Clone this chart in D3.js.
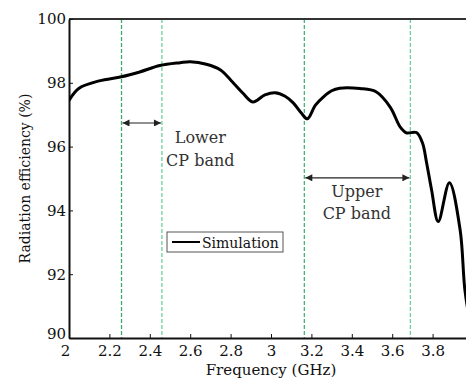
<!DOCTYPE html>
<html>
<head>
<meta charset="utf-8">
<script src="https://cdn.jsdelivr.net/npm/d3@7"></script>
<style>
  body { margin: 0; background: #fff; }
  svg { display: block; }
</style>
</head>
<body>
<svg id="chart"></svg>
<script>
// values
const freq = [2.00, 2.05, 2.15, 2.26, 2.35, 2.45, 2.55, 2.60, 2.68, 2.75, 2.80, 2.86, 2.91, 2.97, 3.02, 3.07,
  3.11, 3.15, 3.18, 3.22, 3.26, 3.30, 3.34, 3.44, 3.52, 3.59, 3.64, 3.67, 3.72, 3.75, 3.77, 3.795,
  3.828, 3.883, 3.936, 3.96, 3.99];
const efficiency = [97.45, 97.83, 98.06, 98.19, 98.34, 98.54, 98.63, 98.66, 98.58, 98.40, 98.09, 97.68, 97.40, 97.62, 97.69, 97.58,
  97.37, 97.05, 96.87, 97.30, 97.56, 97.75, 97.83, 97.82, 97.72, 97.24, 96.61, 96.43, 96.44, 96.11, 95.50, 94.64,
  93.65, 94.87, 93.40, 91.50, 90.30];

const bandEdges = [2.26, 2.46, 3.165, 3.69];
const bandColors = ["#38ad6c", "#6ccf9c", "#44b57a", "#6ccf9c"];
const xTicks = [2, 2.2, 2.4, 2.6, 2.8, 3, 3.2, 3.4, 3.6, 3.8, 4];
const yTicks = [90, 92, 94, 96, 98, 100];

const WIDTH = 466, HEIGHT = 378;
const LEFT = 69, RIGHT = 473, TOP = 19, BOTTOM = 338;
const FONT = "'DejaVu Serif', 'Times New Roman', serif";

const svg = d3.select("#chart").attr("width", WIDTH).attr("height", HEIGHT)
  .style("font-family", FONT);

const x = d3.scaleLinear().domain([2, 4]).range([LEFT, RIGHT]);
const y = d3.scaleLinear().domain([90, 100]).range([BOTTOM, TOP]);

svg.append("defs").append("clipPath").attr("id", "plot")
  .append("rect").attr("x", LEFT).attr("y", TOP).attr("width", RIGHT - LEFT).attr("height", BOTTOM - TOP);

// arrow marker
svg.select("defs").append("marker")
  .attr("id", "arr").attr("viewBox", "0 0 10 10").attr("refX", 10).attr("refY", 5)
  .attr("markerWidth", 9).attr("markerHeight", 7).attr("markerUnits", "userSpaceOnUse")
  .attr("orient", "auto-start-reverse")
  .append("path").attr("d", "M0,0 L10,5 L0,10 z").attr("fill", "#222");

// band edges
svg.selectAll(".edge")
  .data(bandEdges)
  .enter()
  .append("line")
  .attr("x1", d => x(d)).attr("x2", d => x(d))
  .attr("y1", TOP).attr("y2", BOTTOM)
  .attr("stroke", (d, i) => bandColors[i])
  .attr("stroke-width", 1.3)
  .attr("stroke-dasharray", "4,2");

// top border
svg.append("line").attr("x1", LEFT).attr("x2", RIGHT).attr("y1", TOP).attr("y2", TOP)
  .attr("stroke", "#333").attr("stroke-width", 2);

// axes
const xAxis = svg.append("g").attr("transform", `translate(0,${BOTTOM})`)
  .call(d3.axisBottom(x).tickValues(xTicks).tickSizeInner(-4).tickSizeOuter(0).tickFormat(d3.format("")));
const yAxis = svg.append("g").attr("transform", `translate(${LEFT},0)`)
  .call(d3.axisLeft(y).tickValues(yTicks).tickSizeInner(-4).tickSizeOuter(0));

[xAxis, yAxis].forEach(a => {
  a.attr("font-family", null).attr("font-size", 15);
  a.select(".domain").attr("stroke", "#111").attr("stroke-width", 2);
  a.selectAll(".tick line").attr("stroke", "#111").attr("stroke-width", 1);
  a.selectAll(".tick text").attr("fill", "#111");
});
xAxis.selectAll(".tick text").attr("y", 7).attr("dy", "0.71em");
xAxis.selectAll(".tick text").filter(d => d === 2).attr("dx", -4);
yAxis.selectAll(".tick text").attr("x", -3);
yAxis.selectAll(".tick text").filter(d => d === 90).attr("dy", "0.05em");

// axis titles
svg.append("text").attr("x", (LEFT + RIGHT) / 2).attr("y", 375)
  .attr("text-anchor", "middle").attr("font-size", 15).attr("fill", "#111")
  .text("Frequency (GHz)");
svg.append("text").attr("transform", `translate(30,${(TOP + BOTTOM) / 2}) rotate(-90)`)
  .attr("text-anchor", "middle").attr("font-size", 14).attr("fill", "#111")
  .text("Radiation efficiency (%)");

// curve
const line = d3.line()
  .x((d, i) => x(freq[i]))
  .y(d => y(d))
  .curve(d3.curveCatmullRom.alpha(0.5));
svg.append("path")
  .datum(efficiency)
  .attr("clip-path", "url(#plot)")
  .attr("d", line)
  .attr("fill", "none")
  .attr("stroke", "#000")
  .attr("stroke-width", 3)
  .attr("stroke-linejoin", "round");

// band arrows and labels
const bands = [
  { from: bandEdges[0], to: bandEdges[1], at: 96.74, label: ["Lower", "CP band"], tx: 2.65, ty: [96.11, 95.39] },
  { from: bandEdges[2], to: bandEdges[3], at: 95.02, label: ["Upper", "CP band"], tx: 3.425, ty: [94.42, 93.73] }
];
bands.forEach(b => {
  svg.append("line")
    .attr("x1", x(b.from) + 1).attr("x2", x(b.to) - 1)
    .attr("y1", y(b.at)).attr("y2", y(b.at))
    .attr("stroke", "#222").attr("stroke-width", 1.2)
    .attr("marker-start", "url(#arr)").attr("marker-end", "url(#arr)");
  b.label.forEach((t, i) => {
    svg.append("text").attr("x", x(b.tx)).attr("y", y(b.ty[i]))
      .attr("text-anchor", "middle").attr("font-size", 16).attr("fill", "#333").text(t);
  });
});

// legend
const lg = svg.append("g").attr("transform", "translate(167,232)");
lg.append("rect").attr("width", 116).attr("height", 20)
  .attr("fill", "#fff").attr("stroke", "#555").attr("stroke-width", 1);
lg.append("line").attr("x1", 5).attr("x2", 33).attr("y1", 10).attr("y2", 10)
  .attr("stroke", "#000").attr("stroke-width", 2);
lg.append("text").attr("x", 35).attr("y", 15.5).attr("font-size", 14).attr("fill", "#111").text("Simulation");
</script>
</body>
</html>
